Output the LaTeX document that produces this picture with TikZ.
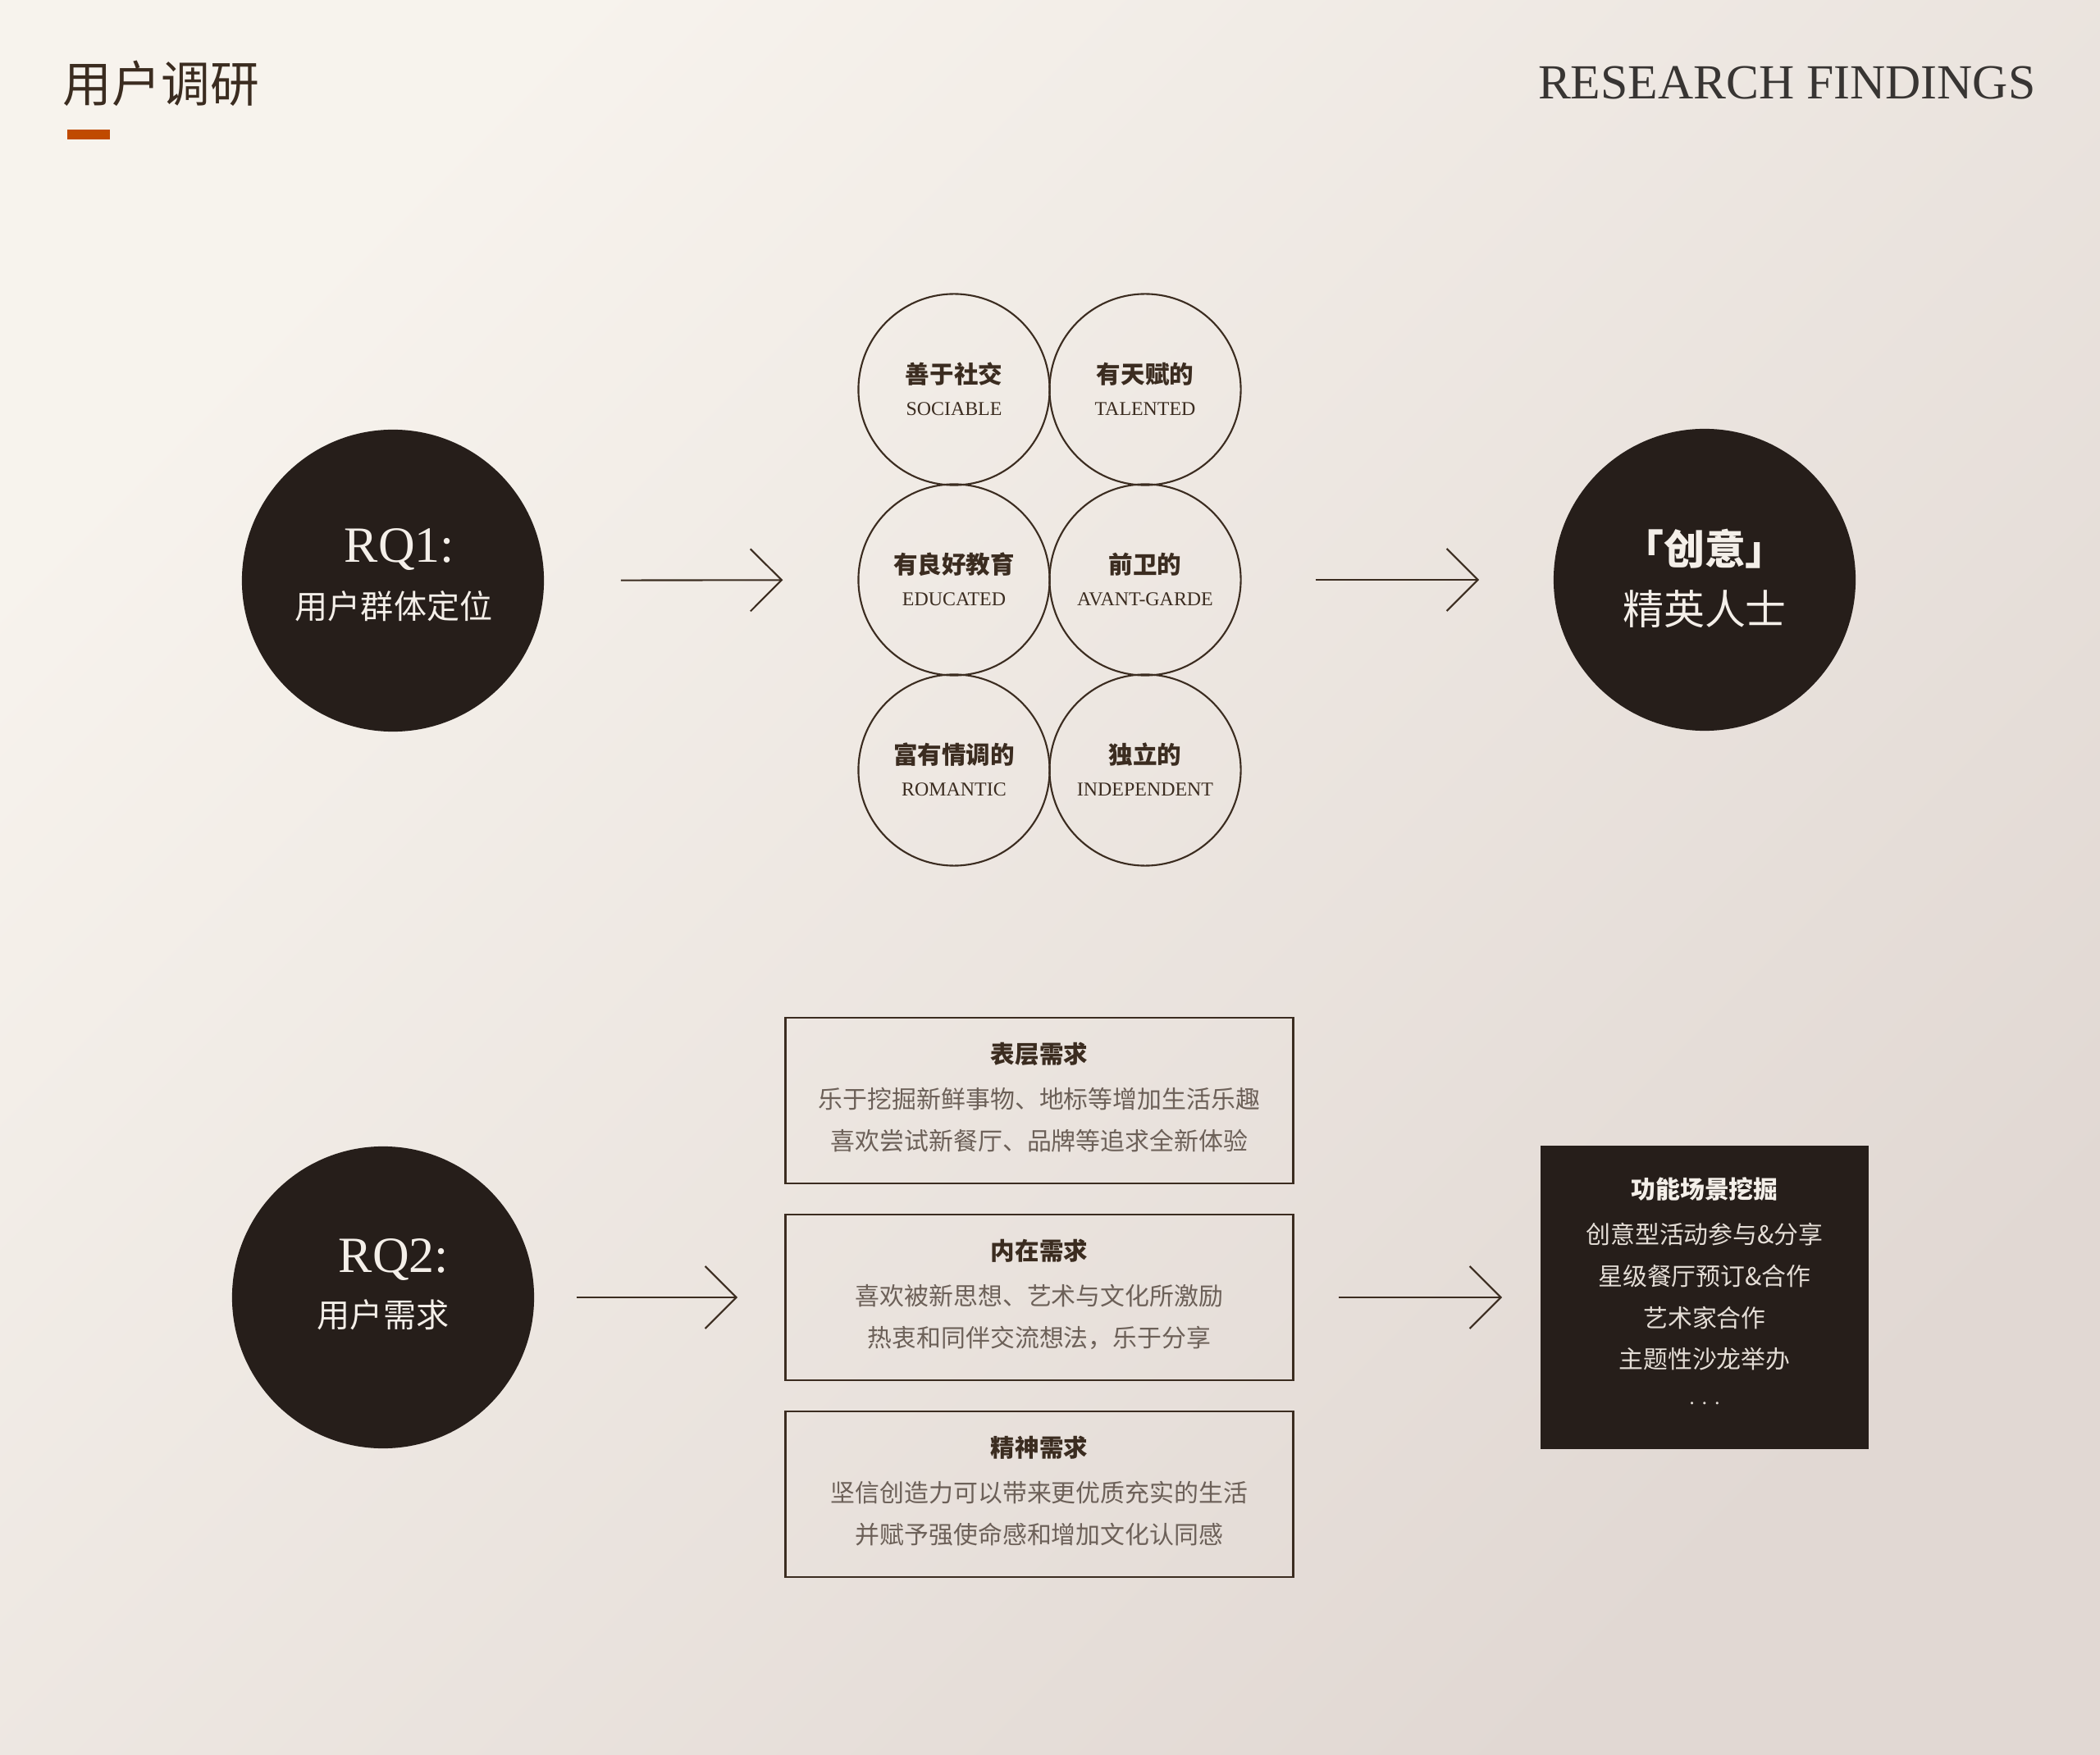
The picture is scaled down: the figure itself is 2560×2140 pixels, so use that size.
\documentclass[tikz,border=0pt]{standalone}
\usepackage{fontspec}
\setmainfont{Liberation Serif}
\newfontfamily\cjk{Noto Sans CJK SC}
\usetikzlibrary{arrows.meta}
\definecolor{bgA}{HTML}{F7F3ED}
\definecolor{bgB}{HTML}{E1D8D3}
\definecolor{ink}{HTML}{261E1A}
\definecolor{brown}{HTML}{3B2C20}
\definecolor{soft}{HTML}{6C6058}
\definecolor{paper}{HTML}{F4EFE9}
\definecolor{pale}{HTML}{E4DDD6}
\definecolor{rust}{HTML}{C04A00}
\definecolor{graytxt}{HTML}{383533}
\newcommand{\fsz}[1]{\fontsize{#1pt}{#1pt}\selectfont}

\begin{document}
\begin{tikzpicture}[x=0.01cm,y=-0.01cm,
	darkdisc/.style={circle,fill=ink,minimum size=3.68cm,inner sep=0pt},
	trait/.style={circle,draw=brown,line width=0.6pt,minimum size=2.33cm,inner sep=0pt},
	needbox/.style={rectangle,draw=brown,line width=0.7pt,minimum width=6.19cm,minimum height=2.02cm,inner sep=0pt},
	scenebox/.style={rectangle,fill=ink,minimum width=4cm,minimum height=3.69cm,inner sep=0pt},
	flow/.style={draw=brown,line width=0.6pt,-{Straight Barb[length=0.38cm,width=0.76cm]}},
	txt/.style={inner sep=0pt,text=brown},
	lite/.style={inner sep=0pt,text=paper},
	zh/.style={txt,font=\cjk\bfseries\fsz{8.4}},
	en/.style={txt,font=\fsz{6.8}},
	head/.style={txt,font=\cjk\bfseries\fsz{8.4}},
	body/.style={inner sep=0pt,text=soft,font=\cjk\fsz{8.5}}
	]
	\useasboundingbox (0,0) rectangle (2560,2140);
	\shade[top color=bgA,bottom color=bgB,shading angle=45] (0,0) rectangle (2560,2140);
	%%%%%%%%%%%%%%% header
	\node[txt,anchor=west,font=\cjk\fsz{17}] (title) at (76,102) {用户调研};
	\fill[rust] (82,158) rectangle (134,170);
	\node[inner sep=0pt,text=graytxt,anchor=base east,font=\fsz{17}] (eng) at (2482,121) {RESEARCH FINDINGS};
	%%%%%%%%%%%%%%% RQ1
	\node[darkdisc] (rq1) at (479,708) {};
	\node[lite,anchor=base,font=\fsz{17.6}] (rq1a) at (487,686) {RQ1:};
	\node[lite,font=\cjk\fsz{11.4}] (rq1b) at (480,739) {用户群体定位};
	\node[trait] (soc) at (1163,475) {};
	\node[trait] (tal) at (1396,475) {};
	\node[trait] (edu) at (1163,707) {};
	\node[trait] (ava) at (1396,707) {};
	\node[trait] (rom) at (1163,939) {};
	\node[trait] (ind) at (1396,939) {};
	\node[zh] (soc1) at ([yshift=0.19cm]soc) {善于社交};
	\node[en,anchor=base] (soc2) at ([yshift=-0.31cm]soc) {SOCIABLE};
	\node[zh] (tal1) at ([yshift=0.19cm]tal) {有天赋的};
	\node[en,anchor=base] (tal2) at ([yshift=-0.31cm]tal) {TALENTED};
	\node[zh] (edu1) at ([yshift=0.19cm]edu) {有良好教育};
	\node[en,anchor=base] (edu2) at ([yshift=-0.31cm]edu) {EDUCATED};
	\node[zh] (ava1) at ([yshift=0.19cm]ava) {前卫的};
	\node[en,anchor=base] (ava2) at ([yshift=-0.31cm]ava) {AVANT-GARDE};
	\node[zh] (rom1) at ([yshift=0.19cm]rom) {富有情调的};
	\node[en,anchor=base] (rom2) at ([yshift=-0.31cm]rom) {ROMANTIC};
	\node[zh] (ind1) at ([yshift=0.19cm]ind) {独立的};
	\node[en,anchor=base] (ind2) at ([yshift=-0.31cm]ind) {INDEPENDENT};
	\node[darkdisc] (elite) at (2078,707) {};
	\node[lite,font=\cjk\bfseries\fsz{14.2}] (elite1) at (2078,669) {「创意」};
	\node[lite,font=\cjk\fsz{14.2}] (elite2) at (2078,743) {精英人士};
	\draw[flow,shorten <=0.93cm,shorten >=0.91cm] (rq1) -- (edu);
	\draw[flow,shorten <=0.9cm,shorten >=0.9cm] (ava) -- (elite);
	%%%%%%%%%%%%%%% RQ2
	\node[darkdisc] (rq2) at (467,1582) {};
	\node[lite,anchor=base,font=\fsz{17.6}] (rq2a) at (480,1551) {RQ2:};
	\node[lite,font=\cjk\fsz{11.4}] (rq2b) at (467,1603) {用户需求};
	\node[needbox] (surf) at (1267,1342) {};
	\node[head] (surf0) at (1267,1285) {表层需求};
	\node[body] (surf1) at (1267,1340) {乐于挖掘新鲜事物、地标等增加生活乐趣};
	\node[body] (surf2) at (1267,1391) {喜欢尝试新餐厅、品牌等追求全新体验};
	\node[needbox] (inner) at (1267,1582) {};
	\node[head] (inner0) at (1267,1525) {内在需求};
	\node[body] (inner1) at (1267,1580) {喜欢被新思想、艺术与文化所激励};
	\node[body] (inner2) at (1267,1631) {热衷和同伴交流想法，乐于分享};
	\node[needbox] (spirit) at (1267,1822) {};
	\node[head] (spirit0) at (1267,1765) {精神需求};
	\node[body] (spirit1) at (1267,1820) {坚信创造力可以带来更优质充实的生活};
	\node[body] (spirit2) at (1267,1871) {并赋予强使命感和增加文化认同感};
	\node[scenebox] (scene) at (2078,1582) {};
	\node[lite,font=\cjk\bfseries\fsz{8.5}] (scene0) at (2078,1450) {功能场景挖掘};
	\node[inner sep=0pt,text=pale,font=\cjk\fsz{8.5}] (scene1) at (2078,1505) {创意型活动参与\&分享};
	\node[inner sep=0pt,text=pale,font=\cjk\fsz{8.5}] (scene2) at (2078,1556) {星级餐厅预订\&合作};
	\node[inner sep=0pt,text=pale,font=\cjk\fsz{8.5}] (scene3) at (2078,1607) {艺术家合作};
	\node[inner sep=0pt,text=pale,font=\cjk\fsz{8.5}] (scene4) at (2078,1657) {主题性沙龙举办};
	\node[inner sep=0pt,text=pale,font=\fsz{7.5}] (scene5) at (2078,1711) {. . .};
	\draw[flow,shorten <=0.51cm,shorten >=0.57cm] (rq2) -- (inner);
	\draw[flow,shorten <=0.54cm,shorten >=0.46cm] (inner) -- (scene);
\end{tikzpicture}
\end{document}
